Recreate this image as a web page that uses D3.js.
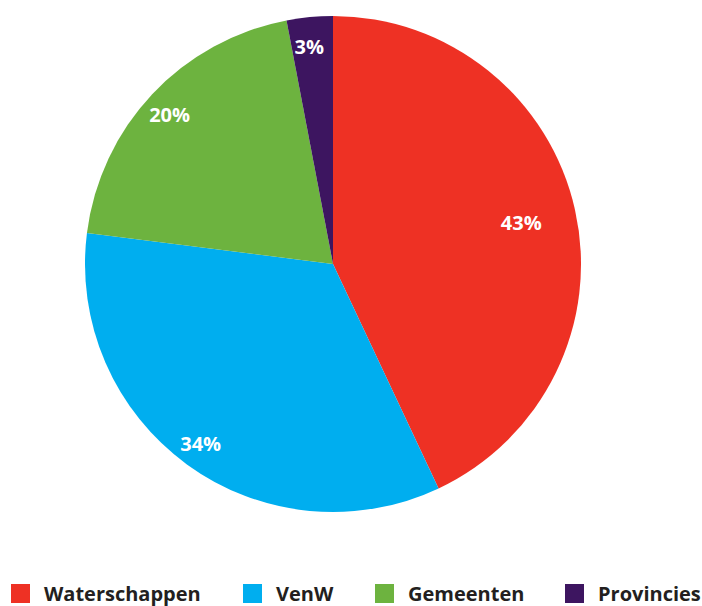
<!DOCTYPE html>
<html>
<head>
<meta charset="utf-8">
<script src="https://cdn.jsdelivr.net/npm/d3@7"></script>
<style>
  body { margin: 0; background: #fff; }
  svg { display: block; }
</style>
</head>
<body>
<svg id="chart" width="702" height="606"></svg>
<script>
// data
var categories = ["Waterschappen", "VenW", "Gemeenten", "Provincies"]
var shares = [43, 34, 20, 3]
var colors = ["#ee3124", "#00aeef", "#6db33f", "#3d1560"]

var width = 702, height = 606
var cx = 333, cy = 264, radius = 248

var svg = d3.select("#chart")

var rows = categories.map(function(c, i){ return {name: c, value: shares[i], color: colors[i]} })

var pie = d3.pie().sort(null).value(function(d){ return d.value })
var arc = d3.arc().innerRadius(0).outerRadius(radius)

var g = svg.append("g").attr("transform", "translate(" + cx + "," + cy + ")")

g.selectAll("path").data(pie(rows))
  .enter().append("path")
  .attr("d", arc)
  .attr("fill", function(d){ return d.data.color })

// label radius, biggest slice a bit closer in
function labelR(d){ return d.data.value > 40 ? 196 : 220 }

g.selectAll("text").data(pie(rows))
  .enter().append("text")
  .attr("transform", function(d){
    var a = (d.startAngle + d.endAngle) / 2, r = labelR(d)
    return "translate(" + (Math.sin(a) * r - 3) + "," + (-Math.cos(a) * r + 2) + ")"
  })
  .attr("text-anchor", "middle")
  .attr("dy", "0.35em")
  .attr("fill", "#fff")
  .style("font-family", "'Open Sans', sans-serif")
  .style("font-weight", 700)
  .style("font-size", "20px")
  .text(function(d){ return d.data.value + "%" })

// legend
var legendX = [11, 243, 375, 565]
var legend = svg.append("g").attr("class", "legend")
var items = legend.selectAll("g").data(rows)
  .enter().append("g")
  .attr("transform", function(d, i){ return "translate(" + legendX[i] + ",584)" })
items.append("rect")
  .attr("width", 19).attr("height", 19)
  .attr("fill", function(d){ return d.color })
items.append("text")
  .attr("x", 33).attr("y", 17)
  .attr("fill", "#231f20")
  .style("font-family", "'Open Sans', sans-serif")
  .style("font-weight", 700)
  .style("font-size", "20px")
  .text(function(d){ return d.name })
</script>
</body>
</html>
